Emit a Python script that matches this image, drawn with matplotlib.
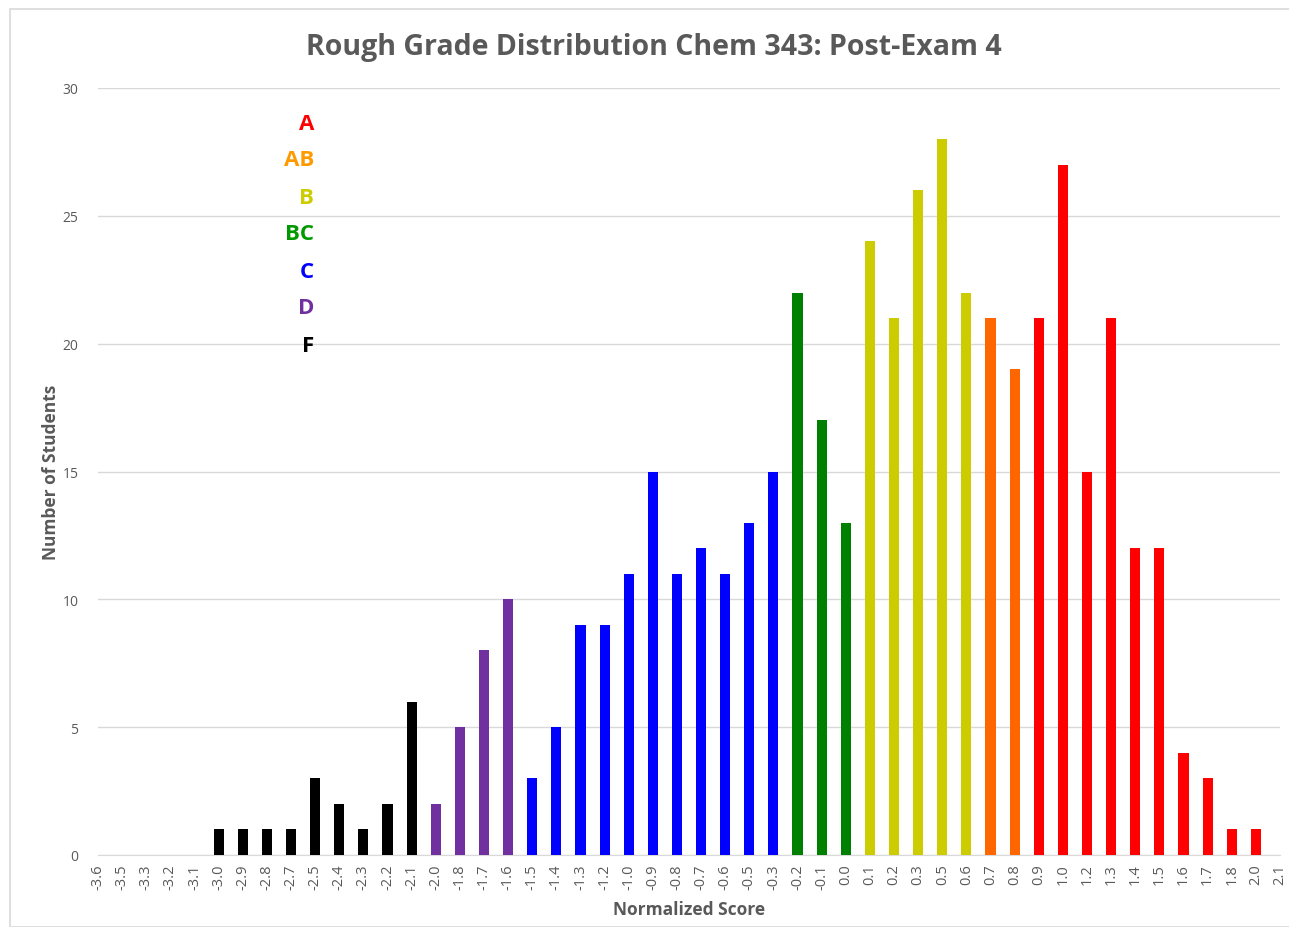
import numpy as np
import matplotlib.pyplot as plt
from matplotlib.patches import Rectangle

plt.rcParams['font.family'] = ['Open Sans', 'DejaVu Sans']

# categories (normalized score) and counts
scores = ['-3.6', '-3.5', '-3.3', '-3.2', '-3.1', '-3.0', '-2.9', '-2.8', '-2.7',
          '-2.5', '-2.4', '-2.3', '-2.2', '-2.1', '-2.0', '-1.8', '-1.7', '-1.6',
          '-1.5', '-1.4', '-1.3', '-1.2', '-1.0', '-0.9', '-0.8', '-0.7', '-0.6',
          '-0.5', '-0.3', '-0.2', '-0.1', '0.0', '0.1', '0.2', '0.3', '0.5', '0.6',
          '0.7', '0.8', '0.9', '1.0', '1.2', '1.3', '1.4', '1.5', '1.6', '1.7',
          '1.8', '2.0', '2.1']
counts = [0, 0, 0, 0, 0, 1, 1, 1, 1,
          3, 2, 1, 2, 6, 2, 5, 8, 10,
          3, 5, 9, 9, 11, 15, 11, 12, 11,
          13, 15, 22, 17, 13, 24, 21, 26, 28, 22,
          21, 19, 21, 27, 15, 21, 12, 12, 4, 3,
          1, 1, 0]
grades = ['F'] * 14 + ['D'] * 4 + ['C'] * 11 + ['BC'] * 3 + ['B'] * 5 + \
         ['AB'] * 2 + ['A'] * 11

bar_colors = {'A': '#FF0000', 'AB': '#FF6600', 'B': '#CCCC00', 'BC': '#008000',
              'C': '#0000FF', 'D': '#7030A0', 'F': '#000000'}
label_colors = {'A': '#FF0000', 'AB': '#FF9900', 'B': '#CCCC00', 'BC': '#009900',
                'C': '#0000FF', 'D': '#7030A0', 'F': '#000000'}
legend_order = ['A', 'AB', 'B', 'BC', 'C', 'D', 'F']

fig = plt.figure(figsize=(12.89, 9.28), dpi=100)
fig.patches.append(Rectangle((10 / 1289, 0), 1, 1 - 10 / 928, transform=fig.transFigure,
                             fill=False, edgecolor='#D9D9D9', linewidth=1.2))
ax = fig.add_axes([98 / 1289, 1 - 856 / 928, 1182 / 1289, 767 / 928])

x = np.arange(len(scores))
ax.bar(x, counts, width=0.42, color=[bar_colors[g] for g in grades], zorder=3)

ax.set_xlim(0, len(scores) - 1)
ax.set_ylim(0, 30)
ax.set_yticks(range(0, 31, 5))
ax.set_xticks(x)
ax.set_xticklabels(scores, rotation=90, fontsize=10.5, color='#595959')
ax.tick_params(axis='y', labelsize=10, labelcolor='#595959', length=0, pad=14)
ax.tick_params(axis='x', length=0, pad=6)
ax.grid(axis='y', color='#D9D9D9', linewidth=1, zorder=0)
for s in ['top', 'right', 'left']:
    ax.spines[s].set_visible(False)
ax.spines['bottom'].set_color('#D9D9D9')

ax.set_xlabel('Normalized Score', fontsize=12.5, fontweight='bold', color='#595959', labelpad=8)
ax.set_ylabel('Number of Students', fontsize=12.5, fontweight='bold', color='#595959', labelpad=2)
fig.text(654 / 1289, 1 - 47 / 928, 'Rough Grade Distribution Chem 343: Post-Exam 4',
         ha='center', va='center', fontsize=20.5, fontweight='bold', color='#595959')

for i, g in enumerate(legend_order):
    ax.text(0.183, 1 - (35 + 37 * i) / 767, g, transform=ax.transAxes, ha='right', va='center',
            fontsize=16, fontweight='bold', color=label_colors[g])

fig.savefig('out.png', dpi=100)
